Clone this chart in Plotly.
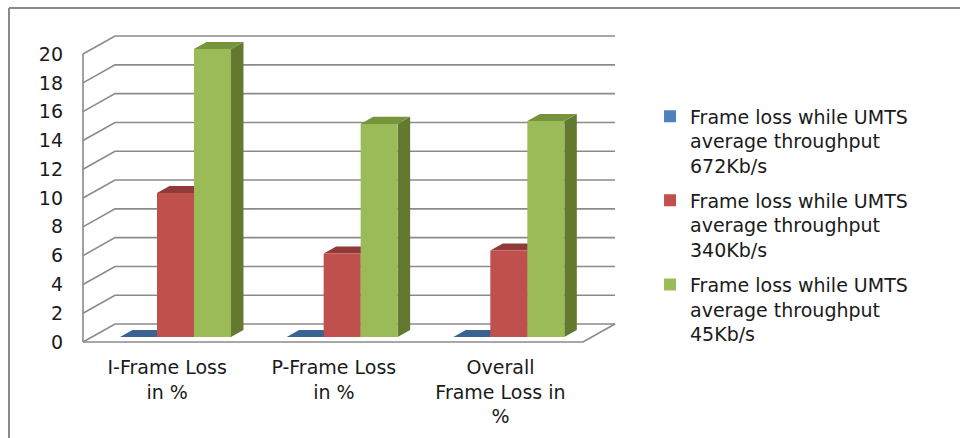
import plotly.graph_objects as go

# ---------------- data ----------------
categories = ["I-Frame Loss<br>in %", "P-Frame Loss<br>in %", "Overall<br>Frame Loss in<br>%"]
series_names = [
    "Frame loss while UMTS<br>average throughput<br>672Kb/s",
    "Frame loss while UMTS<br>average throughput<br>340Kb/s",
    "Frame loss while UMTS<br>average throughput<br>45Kb/s",
]
loss_672 = [0.0, 0.0, 0.0]
loss_340 = [10.0, 5.8, 6.0]
loss_45 = [20.0, 14.8, 15.0]
y_ticks = [0, 2, 4, 6, 8, 10, 12, 14, 16, 18, 20]

# ---------------- styles ----------------
front_colors = ["#4F81BD", "#C0504D", "#9BBB59"]
top_colors = ["#3A6394", "#923A37", "#77933C"]
side_colors = ["#2F5079", "#7A2F2D", "#62792F"]
grid_color = "#8A8A8A"
font_family = "DejaVu Sans"

# oblique projection (in data units): full depth of the floor
DX, DY = 0.192, 1.25
D_FRONT, D_BACK = -0.28, 0.72      # front/back wall depth relative to bar plane
D_BAR = 0.39                       # bar depth
BAR_W = 0.222
BARGAP = 1 - 3 * BAR_W
X_LEFT_FRONT, X_RIGHT_FRONT = -0.555 + 0.0538, 2.445 + 0.0538  # in bar-plane x


def pt(x, v, d):
    return x + d * DX, v + d * DY


def path(points):
    s = "M " + " L ".join(f"{x:.4f},{y:.4f}" for x, y in points) + " Z"
    return s


def line_path(points):
    return "M " + " L ".join(f"{x:.4f},{y:.4f}" for x, y in points)


shapes = []
gl = dict(color=grid_color, width=1.6)

# gridlines on side wall + back wall
ymax = max(y_ticks)
for v in y_ticks:
    a = pt(X_LEFT_FRONT, v, D_FRONT)
    b = pt(X_LEFT_FRONT, v, D_BACK)
    c = pt(X_RIGHT_FRONT, v, D_BACK)
    shapes.append(dict(type="path", path=line_path([a, b, c]), line=gl, layer="below",
                       xref="x", yref="y"))

# front vertical axis line
a = pt(X_LEFT_FRONT, 0, D_FRONT)
b = pt(X_LEFT_FRONT, ymax, D_FRONT)
shapes.append(dict(type="path", path=line_path([a, b]), line=gl, layer="below", xref="x", yref="y"))
# floor front edge + right edge
fr = pt(X_RIGHT_FRONT, 0, D_FRONT)
br = pt(X_RIGHT_FRONT, 0, D_BACK)
shapes.append(dict(type="path", path=line_path([a, fr, br]), line=gl, layer="below", xref="x", yref="y"))

# bar top and side faces
all_series = [loss_672, loss_340, loss_45]
for s, vals in enumerate(all_series):
    for i, v in enumerate(vals):
        cx = i + (s - 1) * BAR_W
        x0, x1 = cx - BAR_W / 2, cx + BAR_W / 2
        side = [pt(x1, 0, 0), pt(x1, v, 0), pt(x1, v, D_BAR), pt(x1, 0, D_BAR)]
        shapes.append(dict(type="path", path=path(side), fillcolor=side_colors[s],
                           line=dict(width=0), layer="below", xref="x", yref="y"))
        top = [pt(x0, v, 0), pt(x1, v, 0), pt(x1, v, D_BAR), pt(x0, v, D_BAR)]
        shapes.append(dict(type="path", path=path(top), fillcolor=top_colors[s],
                           line=dict(width=0), layer="below", xref="x", yref="y"))

# chart border (left and top)
shapes.append(dict(type="line", xref="paper", yref="paper", x0=-0.1315, x1=-0.1315,
                   y0=-0.3, y1=1.0698, line=dict(color=grid_color, width=2)))
shapes.append(dict(type="line", xref="paper", yref="paper", x0=-0.1315, x1=1.65,
                   y0=1.0698, y1=1.0698, line=dict(color=grid_color, width=2)))

fig = go.Figure()
for s, vals in enumerate(all_series):
    fig.add_trace(go.Bar(
        x=[0, 1, 2], y=vals, name=series_names[s],
        marker=dict(color=front_colors[s], line=dict(width=0)),
        legendgroup=f"g{s}",
    ))

fig.update_layout(
    width=960, height=438, autosize=False,
    margin=dict(l=80, r=340, t=30, b=93),
    paper_bgcolor="white", plot_bgcolor="white",
    barmode="group", bargap=BARGAP, bargroupgap=0,
    font=dict(family=font_family, size=19, color="#1a1a1a"),
    shapes=shapes,
    showlegend=True,
    legend=dict(x=1.0556, y=0.786, xanchor="left", yanchor="top",
                valign="top", tracegroupgap=7, traceorder="grouped",
                font=dict(family=font_family, size=19, color="#1a1a1a"),
                bgcolor="rgba(0,0,0,0)"),
    xaxis=dict(range=[-0.573, 2.667], tickmode="array",
               tickvals=[i - 0.05 for i in range(len(categories))],
               ticktext=categories, showgrid=False, zeroline=False, showline=False,
               ticks="", ticklabelstandoff=9, fixedrange=True),
    yaxis=dict(range=[-0.556, 21.32], tickmode="array",
               tickvals=[v - 0.35 for v in y_ticks], ticktext=[str(v) for v in y_ticks],
               showgrid=False, zeroline=False, showline=False, ticks="",
               ticklabelstandoff=16, fixedrange=True),
)

fig.write_html("out.html")
